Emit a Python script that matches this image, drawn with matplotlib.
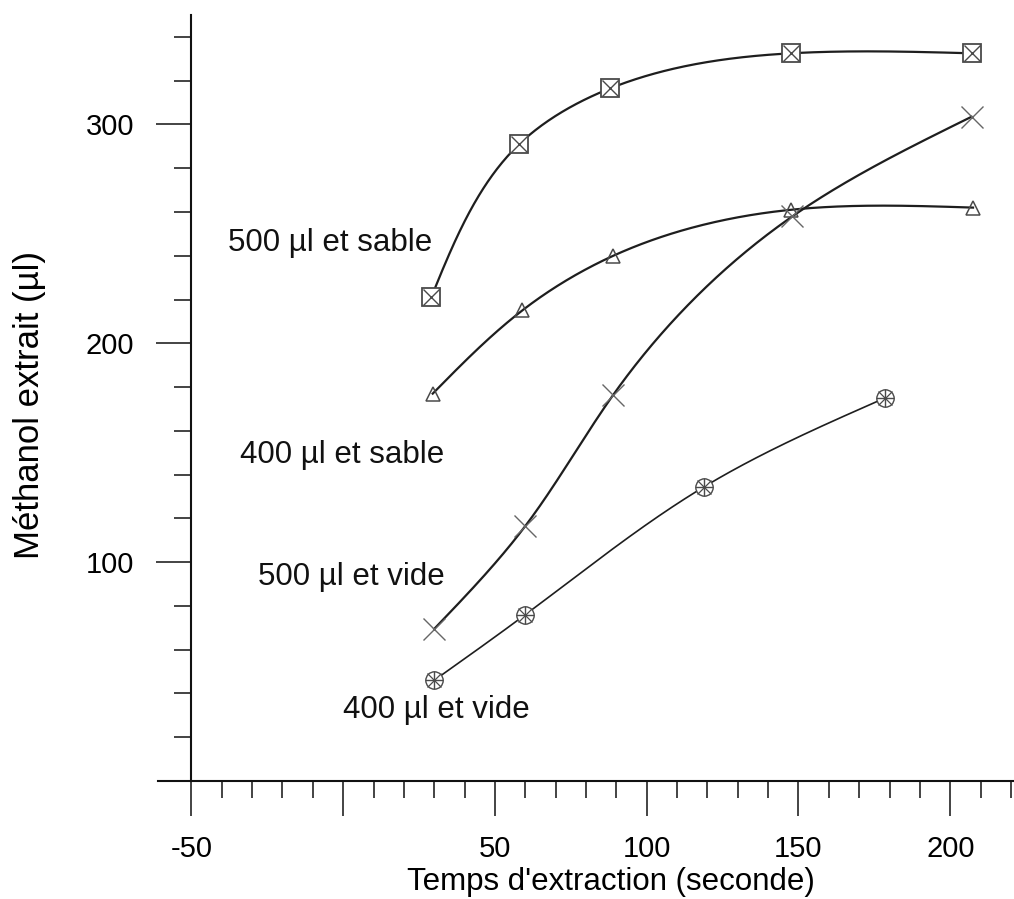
import numpy as np
import matplotlib
matplotlib.use("Agg")
import matplotlib.pyplot as plt

plt.rcParams['font.family'] = ['Liberation Sans', 'DejaVu Sans']

# Extraction time (s) and extracted methanol (µl) for each condition
sable500_x = [29, 58, 88, 147.5, 207]
sable500_y = [221, 291, 316.5, 332.5, 332.5]

sable400_x = [29.5, 59, 89, 147.5, 207.5]
sable400_y = [177, 215, 240, 261, 262]

vide500_x = [30, 60, 89, 148, 207]
vide500_y = [69.5, 116.5, 176.5, 258, 303.5]

vide400_x = [30, 60, 119, 178.5]
vide400_y = [46, 76, 134.5, 175]

series_labels = ["500 µl et sable", "400 µl et sable", "500 µl et vide", "400 µl et vide"]

x_major = [-50, 0, 50, 100, 150, 200]
x_major_labels = ["-50", "", "50", "100", "150", "200"]
y_major = [100, 200, 300]

# rough screen scale of one data unit along each axis, used for chord lengths
SX, SY = 3.035, 2.189


def _natural_coeffs(t, v):
    k = len(t)
    h = np.diff(t)
    A = np.zeros((k, k))
    r = np.zeros(k)
    A[0, 0] = A[-1, -1] = 1.0
    for i in range(1, k - 1):
        A[i, i - 1] = h[i - 1]
        A[i, i] = 2 * (h[i - 1] + h[i])
        A[i, i + 1] = h[i]
        r[i] = 3 * ((v[i + 1] - v[i]) / h[i] - (v[i] - v[i - 1]) / h[i - 1])
    c = np.linalg.solve(A, r)
    b = (v[1:] - v[:-1]) / h - h * (2 * c[:-1] + c[1:]) / 3
    d = (c[1:] - c[:-1]) / (3 * h)
    return b, c, d


def _evaluate(t, v, b, c, d, tt):
    idx = np.clip(np.searchsorted(t, tt, side="right") - 1, 0, len(t) - 2)
    u = tt - t[idx]
    return v[idx] + b[idx] * u + c[idx] * u ** 2 + d[idx] * u ** 3


def smooth_curve(xs, ys, n=400):
    """Parametric natural cubic spline (chord-length) through the points."""
    x = np.asarray(xs, float)
    y = np.asarray(ys, float)
    seg = np.hypot(np.diff(x) * SX, np.diff(y) * SY)
    t = np.concatenate([[0.0], np.cumsum(seg)])
    tt = np.linspace(0, t[-1], n)
    xx = _evaluate(t, x, *_natural_coeffs(t, x), tt)
    yy = _evaluate(t, y, *_natural_coeffs(t, y), tt)
    return xx, yy


fig = plt.figure(figsize=(10.14, 8.99), dpi=100)
ax = fig.add_axes([158 / 1014, 118 / 899, 856 / 1014, 766 / 899])

line_col = "#1e1e1e"
mark_col = "#4a4a4a"

# 500 µl + sable: squares with a cross inside
xx, yy = smooth_curve(sable500_x, sable500_y)
ax.plot(xx, yy, color=line_col, lw=1.6, zorder=2)
ax.plot(sable500_x, sable500_y, ls="none", marker="s", ms=12.5, mfc="white",
        mec=mark_col, mew=1.3, zorder=3)
ax.plot(sable500_x, sable500_y, ls="none", marker="x", ms=11.5, mec=mark_col,
        mew=1.0, zorder=4)

# 400 µl + sable: open triangles
xx, yy = smooth_curve(sable400_x, sable400_y)
ax.plot(xx, yy, color=line_col, lw=1.6, zorder=2)
ax.plot(sable400_x, sable400_y, ls="none", marker="^", ms=10.5, mfc="none",
        mec=mark_col, mew=1.1, zorder=3)

# 500 µl + vide: crosses
xx, yy = smooth_curve(vide500_x, vide500_y)
ax.plot(xx, yy, color=line_col, lw=1.6, zorder=2)
ax.plot(vide500_x, vide500_y, ls="none", marker="x", ms=16, mec="#666666",
        mew=1.0, zorder=3)

# 400 µl + vide: circles with spokes
xx, yy = smooth_curve(vide400_x, vide400_y)
ax.plot(xx, yy, color=line_col, lw=1.2, zorder=2)
ax.plot(vide400_x, vide400_y, ls="none", marker="o", ms=12.5, mfc="white",
        mec=mark_col, mew=1.0, zorder=3)
ax.plot(vide400_x, vide400_y, ls="none", marker="+", ms=12.5, mec=mark_col,
        mew=1.0, zorder=4)
ax.plot(vide400_x, vide400_y, ls="none", marker="x", ms=10, mec=mark_col,
        mew=0.9, zorder=4)

# Curve labels
txt_kw = dict(fontsize=22.5, ha="left", va="center", color="#111111")
ax.text(-38, 246, series_labels[0], **txt_kw)
ax.text(-34, 149, series_labels[1], **txt_kw)
ax.text(-28, 93, series_labels[2], **txt_kw)
ax.text(0, 32.5, series_labels[3], **txt_kw)

# Axes: y axis crosses at x = -50
ax.set_xlim(-61, 221)
ax.set_ylim(0, 350)
for s in ("top", "right"):
    ax.spines[s].set_visible(False)
ax.spines["left"].set_position(("data", -50))
for s in ("left", "bottom"):
    ax.spines[s].set_linewidth(1.5)
    ax.spines[s].set_color("#111111")

ax.set_xticks(x_major)
ax.set_xticklabels(x_major_labels)
ax.set_xticks([v for v in range(-40, 221, 10) if v % 50 != 0], minor=True)
ax.set_yticks(y_major)
ax.set_yticks([v for v in range(20, 341, 20) if v % 100 != 0], minor=True)

ax.tick_params(axis="both", which="major", direction="out", length=25,
               width=1.1, labelsize=21, color="#111111")
ax.tick_params(axis="both", which="minor", direction="out", length=12,
               width=1.1, color="#111111")
ax.tick_params(axis="x", which="major", pad=14)
ax.tick_params(axis="y", which="major", pad=16)

ax.set_xlabel("Temps d'extraction (seconde)", fontsize=22.5)
ax.xaxis.set_label_coords((611 - 158) / 856, (781 - 867) / 766)
ax.set_ylabel("Méthanol extrait (µl)", fontsize=25)
ax.yaxis.set_label_coords((46 - 158) / 856, (781 - 405) / 766)

fig.savefig("out.png", dpi=100)
